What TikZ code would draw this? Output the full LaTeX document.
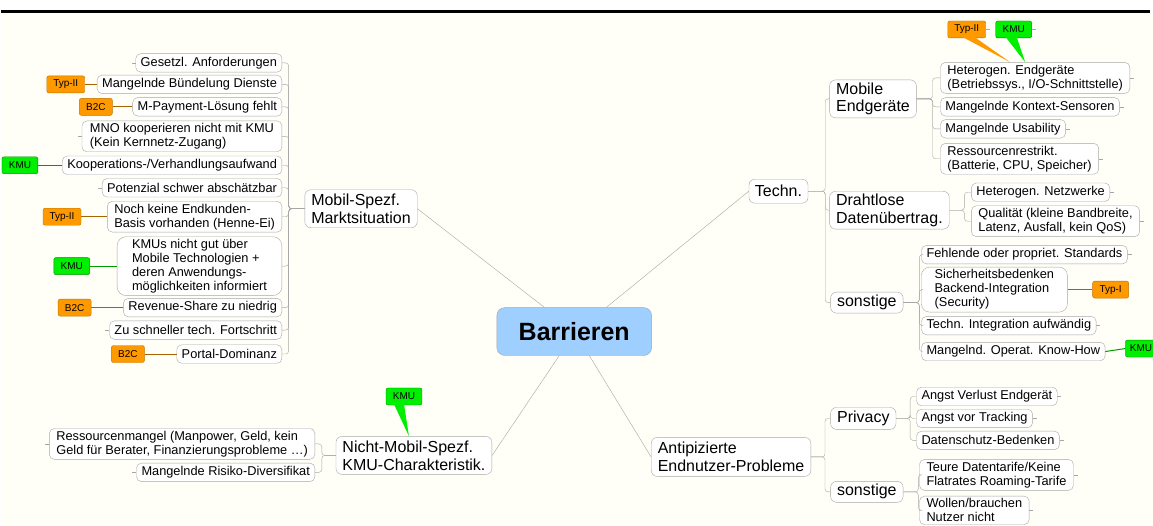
\documentclass[tikz,border=0pt]{standalone}
\usepackage{fontspec}
\setmainfont{Liberation Sans}
\usetikzlibrary{positioning}
\definecolor{cream}{HTML}{FFFFF7}
\definecolor{boxline}{HTML}{A6A6A6}
\definecolor{rootblue}{HTML}{9ECFFF}
\definecolor{tagorange}{HTML}{FF9900}
\definecolor{taggreen}{HTML}{00EE00}

\begin{document}
\begin{tikzpicture}[x=1pt,y=-1pt,
		root node/.style={rectangle,rounded corners=8pt,draw=boxline,fill=rootblue,font=\fontsize{25}{28}\selectfont\bfseries,minimum width=155pt,minimum height=48pt},
		main node/.style={rectangle,rounded corners=6pt,draw=boxline,fill=white,font=\fontsize{16}{18}\selectfont,align=left,inner xsep=6.5pt,inner ysep=2.5pt,minimum height=22pt},
		leaf node/.style={rectangle,rounded corners=5pt,draw=boxline,fill=white,font=\fontsize{12.8}{14}\selectfont,align=left,inner xsep=5pt,inner ysep=2.5pt,minimum height=18.5pt},
		orange tag/.style={rectangle,rounded corners=2pt,draw=tagorange!75!black,fill=tagorange,font=\fontsize{10}{12}\selectfont,minimum width=36pt,minimum height=17pt,inner sep=1pt},
		green tag/.style={orange tag,draw=taggreen!60!black,fill=taggreen},
		branch/.style={draw=boxline,thin,rounded corners=3pt},
		fork/.style={to path={-- ++(#1,0) |- (\tikztotarget)}},
		tagline/.style={draw=#1!65!black,line width=1pt}]

		% background and top rule
		\fill[white] (0,0) rectangle (1153,10);
		\fill[cream] (0,10) rectangle (1153,526);
		\draw[line width=3pt] (0,11.5) -- (1150,11.5);
		\useasboundingbox (0,0) rectangle (1153,526);

		\node[root node] (root) at (573.5,332) {Barrieren};

		% main branches
		\node[main node,minimum height=38pt] (markt) at (360,209) {Mobil-Spezf.\\Marktsituation};
		\node[main node,minimum height=24pt,inner xsep=6pt] (techn) at (778,191.5) {Techn.};
		\node[main node,minimum height=38pt] (nichtmobil) at (413,456) {Nicht-Mobil-Spezf.\\KMU-Charakteristik.};
		\node[main node,minimum height=39pt] (endnutzer) at (730.5,457.5) {Antipizierte\\Endnutzer-Probleme};

		\node[main node,minimum height=38pt,anchor=west] (endgeraete) at (829,99) {Mobile\\Endgeräte};
		\node[main node,minimum height=35pt,anchor=west] (drahtlos) at (829,210.5) {Drahtlose\\Datenübertrag.};
		\node[main node,minimum height=21pt,anchor=west] (tsonst) at (830,303) {sonstige};
		\node[main node,minimum height=22pt,anchor=west] (privacy) at (830,419) {Privacy};
		\node[main node,minimum height=21pt,anchor=west] (esonst) at (830,492.5) {sonstige};

		% Mobil-Spezf. Marktsituation
		\node[leaf node,anchor=east] (m1) at (281,63) {Gesetzl. Anforderungen};
		\node[leaf node,anchor=east] (m2) at (281,84.5) {Mangelnde Bündelung Dienste};
		\node[leaf node,anchor=east] (m3) at (281,107) {M-Payment-Lösung fehlt};
		\node[leaf node,anchor=east,inner xsep=8pt] (m4) at (281,136.5) {MNO kooperieren nicht mit KMU\\(Kein Kernnetz-Zugang)};
		\node[leaf node,anchor=east] (m5) at (281,165.5) {Kooperations-/Verhandlungsaufwand};
		\node[leaf node,anchor=east] (m6) at (281,188) {Potenzial schwer abschätzbar};
		\node[leaf node,anchor=east,inner xsep=7pt] (m7) at (281,217) {Noch keine Endkunden-\\Basis vorhanden (Henne-Ei)};
		\node[leaf node,anchor=east,minimum width=165pt,rounded corners=9pt] (m8) at (281,266.5) {KMUs nicht gut über\\Mobile Technologien +\\deren Anwendungs-\\möglichkeiten informiert};
		\node[leaf node,anchor=east] (m9) at (281,308) {Revenue-Share zu niedrig};
		\node[leaf node,anchor=east] (m10) at (281,330.5) {Zu schneller tech. Fortschritt};
		\node[leaf node,anchor=east] (m11) at (281,354.5) {Portal-Dominanz};

		\node[orange tag,left=12pt of m2,minimum width=38pt] (t2) {Typ-II};
		\node[orange tag,left=20pt of m3,minimum width=33pt] (t3) {B2C};
		\node[green tag,left=24pt of m5] (t5) {KMU};
		\node[orange tag,left=26pt of m7,minimum width=38pt] (t7) {Typ-II};
		\node[green tag,left=27pt of m8] (t8) {KMU};
		\node[orange tag,left=32pt of m9,minimum width=33pt] (t9) {B2C};
		\node[orange tag,left=32pt of m11,minimum width=33pt] (t11) {B2C};

		% Techn.
		\node[leaf node,anchor=west,inner xsep=7pt] (e1) at (940,78) {Heterogen. Endgeräte\\(Betriebssys., I/O-Schnittstelle)};
		\node[leaf node,anchor=west] (e2) at (940,107) {Mangelnde Kontext-Sensoren};
		\node[leaf node,anchor=west] (e3) at (940,129) {Mangelnde Usability};
		\node[leaf node,anchor=west,inner xsep=7pt] (e4) at (940,159) {Ressourcenrestrikt.\\(Batterie, CPU, Speicher)};
		\node[leaf node,anchor=west] (d1) at (971,192.5) {Heterogen. Netzwerke};
		\node[leaf node,anchor=west,inner xsep=7pt] (d2) at (971,221.5) {Qualität (kleine Bandbreite,\\Latenz, Ausfall, kein QoS)};
		\node[leaf node,anchor=west] (s1) at (921,255) {Fehlende oder propriet. Standards};
		\node[leaf node,anchor=west,minimum width=146pt,rounded corners=8pt,inner xsep=10pt] (s2) at (921,290) {Sicherheitsbedenken\\Backend-Integration\\(Security)};
		\node[leaf node,anchor=west] (s3) at (921,326) {Techn. Integration aufwändig};
		\node[leaf node,anchor=west] (s4) at (921,352) {Mangelnd. Operat. Know-How};

		\node[orange tag,minimum width=38pt] (ta) at (966.5,29.5) {Typ-II};
		\node[green tag] (tb) at (1013.5,29.5) {KMU};
		\node[orange tag,right=25pt of s2] (ts2) {Typ-I};
		\node[green tag,right=20pt of s4,yshift=3pt,minimum width=31pt] (ts4) {KMU};

		% Nicht-Mobil-Spezf.
		\node[leaf node,anchor=east,inner xsep=7pt] (n1) at (314,444.5) {Ressourcenmangel (Manpower, Geld, kein\\Geld für Berater, Finanzierungsprobleme \ldots)};
		\node[leaf node,anchor=east] (n2) at (314,473) {Mangelnde Risiko-Diversifikat};
		\node[green tag] (tn) at (403,397) {KMU};

		% Endnutzer
		\node[leaf node,anchor=west] (p1) at (916,397) {Angst Verlust Endgerät};
		\node[leaf node,anchor=west] (p2) at (916,419) {Angst vor Tracking};
		\node[leaf node,anchor=west] (p3) at (916,441) {Datenschutz-Bedenken};
		\node[leaf node,anchor=west,inner xsep=7pt] (o1) at (919,475.5) {Teure Datentarife/Keine\\Flatrates Roaming-Tarife};
		\node[leaf node,anchor=west,inner xsep=7pt] (o2) at (919,511) {Wollen/brauchen\\Nutzer nicht};

		% root connectors
		\path[draw=boxline,thin]
		(root.141) edge (markt.east)
		(root.37) edge (techn.west)
		(root.238) edge (nichtmobil.east)
		(root.302) edge (endnutzer.west);

		% tree connectors
		\path[branch]
		(markt.west) edge[fork=-16] (m1.east)
		(markt.west) edge[fork=-16] (m2.east)
		(markt.west) edge[fork=-16] (m3.east)
		(markt.west) edge[fork=-16] (m4.east)
		(markt.west) edge[fork=-16] (m5.east)
		(markt.west) edge[fork=-16] (m6.east)
		(markt.west) edge[fork=-16] (m7.east)
		(markt.west) edge[fork=-16] (m8.east)
		(markt.west) edge[fork=-16] (m9.east)
		(markt.west) edge[fork=-16] (m10.east)
		(markt.west) edge[fork=-16] (m11.east)
		(techn.east) edge[fork=17] (endgeraete.west)
		(techn.east) edge[fork=17] (drahtlos.west)
		(techn.east) edge[fork=17] (tsonst.west)
		(endgeraete.east) edge[fork=16] (e1.west)
		(endgeraete.east) edge[fork=16] (e2.west)
		(endgeraete.east) edge[fork=16] (e3.west)
		(endgeraete.east) edge[fork=16] (e4.west)
		(drahtlos.east) edge[fork=15] (d1.west)
		(drahtlos.east) edge[fork=15] (d2.west)
		(tsonst.east) edge[fork=16] (s1.west)
		(tsonst.east) edge[fork=16] (s2.west)
		(tsonst.east) edge[fork=16] (s3.west)
		(tsonst.east) edge[fork=16] (s4.west)
		(nichtmobil.west) edge[fork=-14] (n1.east)
		(nichtmobil.west) edge[fork=-14] (n2.east)
		(endnutzer.east) edge[fork=14] (privacy.west)
		(endnutzer.east) edge[fork=14] (esonst.west)
		(privacy.east) edge[fork=14] (p1.west)
		(privacy.east) edge[fork=14] (p2.west)
		(privacy.east) edge[fork=14] (p3.west)
		(esonst.east) edge[fork=15] (o1.west)
		(esonst.east) edge[fork=15] (o2.west);

		% little stubs on the free sides
		\foreach \n in {m1,m4,m6,m10,n1,n2}
		\draw[boxline] (\n.west) -- ++(-4,0);
		\foreach \n in {e1,e2,e3,e4,d1,d2,s1,s3,p1,p2,p3,o1,o2,ta,tb}
		\draw[boxline] (\n.east) -- ++(4,0);

		% tag lines
		\draw[tagline=tagorange] (t2.east) -- (m2.west);
		\draw[tagline=tagorange] (t3.east) -- (m3.west);
		\draw[tagline=taggreen] (t5.east) -- (m5.west);
		\draw[tagline=tagorange] (t7.east) -- (m7.west);
		\draw[tagline=taggreen] (t8.east) -- (m8.west);
		\draw[tagline=tagorange] (t9.east) -- (m9.west);
		\draw[tagline=tagorange] (t11.east) -- (m11.west);
		\draw[tagline=tagorange] (s2.east) -- (ts2.west);
		\draw[tagline=taggreen] (s4.east) -- (ts4.west);

		% callout pointers
		\fill[tagorange] ([xshift=-4pt,yshift=1pt]ta.south) -- ([xshift=8pt,yshift=1pt]ta.south) -- ([xshift=-25pt]e1.north) -- cycle;
		\fill[taggreen] ([xshift=-8pt,yshift=1pt]tb.south) -- ([xshift=3pt,yshift=1pt]tb.south) -- ([xshift=-10pt]e1.north) -- cycle;
		\fill[taggreen] ([xshift=-10pt,yshift=1pt]tn.south) -- ([xshift=0pt,yshift=1pt]tn.south) -- ([xshift=-5pt]nichtmobil.north) -- cycle;
		\end{tikzpicture}
\end{document}
